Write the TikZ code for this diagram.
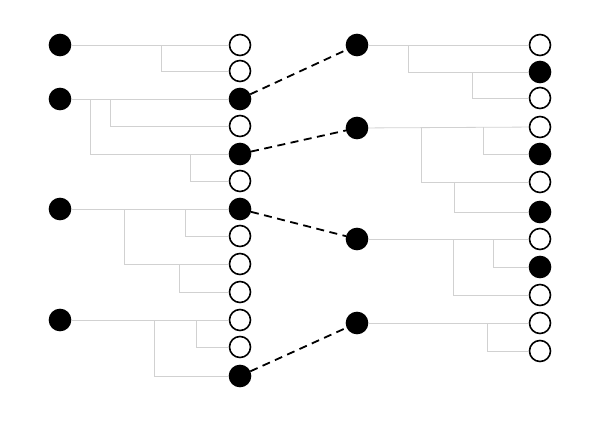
\documentclass[tikz,border=0pt]{standalone}
\usepackage{tikz}
\usetikzlibrary{calc, positioning}

\begin{document}
\begin{tikzpicture}[
        x=1pt, y=-1pt,
        dot/.style={
            circle,
            fill=black,
            draw=black,
            line width=1.6pt,
            inner sep=0pt,
            minimum size=21pt
        },
        hole/.style={dot, fill=white},
        tree/.style={draw=black!18, line width=0.8pt},
        hop/.style={draw=black, line width=1.8pt, dash pattern=on 8pt off 5.5pt}
    ]
        \useasboundingbox (0,0) rectangle (598,422);

        % left panel
        \node[dot] (l1) at (60, 45)  {};
        \node[dot] (l2) at (60, 99)  {};
        \node[dot] (l3) at (60, 209) {};
        \node[dot] (l4) at (60, 320) {};

        \foreach \y/\s [count=\i] in {45/hole, 71/hole, 99/dot, 126/hole, 154/dot, 181/hole,
                209/dot, 236/hole, 264/hole, 292/hole, 320/hole, 347/hole, 376/dot}
            \node[\s] (a\i) at (240, \y) {};

        % right panel
        \node[dot] (r1) at (357, 45)  {};
        \node[dot] (r2) at (357, 128) {};
        \node[dot] (r3) at (357, 239) {};
        \node[dot] (r4) at (357, 323) {};

        \foreach \y/\s [count=\i] in {45/hole, 72/dot, 98/hole, 127/hole, 154/dot, 182/hole,
                212/dot, 239/hole, 267/dot, 295/hole, 323/hole, 351/hole}
            \node[\s] (b\i) at (540, \y) {};

        % left trees
        \draw[tree] (l1) -- (a1);
        \draw[tree] (a2) -| ($(a1)+(-79,0)$);

        \draw[tree] (l2) -- (a3);
        \draw[tree] (a4) -| ($(a3)+(-130,0)$);
        \draw[tree] (a5) -| ($(a3)+(-150,0)$);
        \draw[tree] (a6) -| ($(a5)+(-50,0)$);

        \draw[tree] (l3) -- (a7);
        \draw[tree] (a8) -| ($(a7)+(-55,0)$);
        \draw[tree] (a9) -| ($(a7)+(-116,0)$);
        \draw[tree] (a10) -| ($(a9)+(-61,0)$);

        \draw[tree] (l4) -- (a11);
        \draw[tree] (a12) -| ($(a11)+(-44,0)$);
        \draw[tree] (a13) -| ($(a11)+(-86,0)$);

        % right trees
        \draw[tree] (r1) -- (b1);
        \draw[tree] (b2) -| ($(b1)+(-132,0)$);
        \draw[tree] (b3) -| ($(b2)+(-68,0)$);

        \draw[tree] (r2) -- (b4);
        \draw[tree] (b5) -| ($(b4)+(-57,0)$);
        \draw[tree] (b6) -| ($(b4)+(-119,0)$);
        \draw[tree] (b7) -| ($(b6)+(-86,0)$);

        \draw[tree] (r3) -- (b8);
        \draw[tree] (b9) -| ($(b8)+(-47,0)$);
        \draw[tree] (b10) -| ($(b8)+(-87,0)$);

        \draw[tree] (r4) -- (b11);
        \draw[tree] (b12) -| ($(b11)+(-53,0)$);

        % links between panels
        \draw[hop] (a3) -- (r1);
        \draw[hop] (a5) -- (r2);
        \draw[hop] (a7) -- (r3);
        \draw[hop] (a13) -- (r4);

    \end{tikzpicture}
\end{document}
